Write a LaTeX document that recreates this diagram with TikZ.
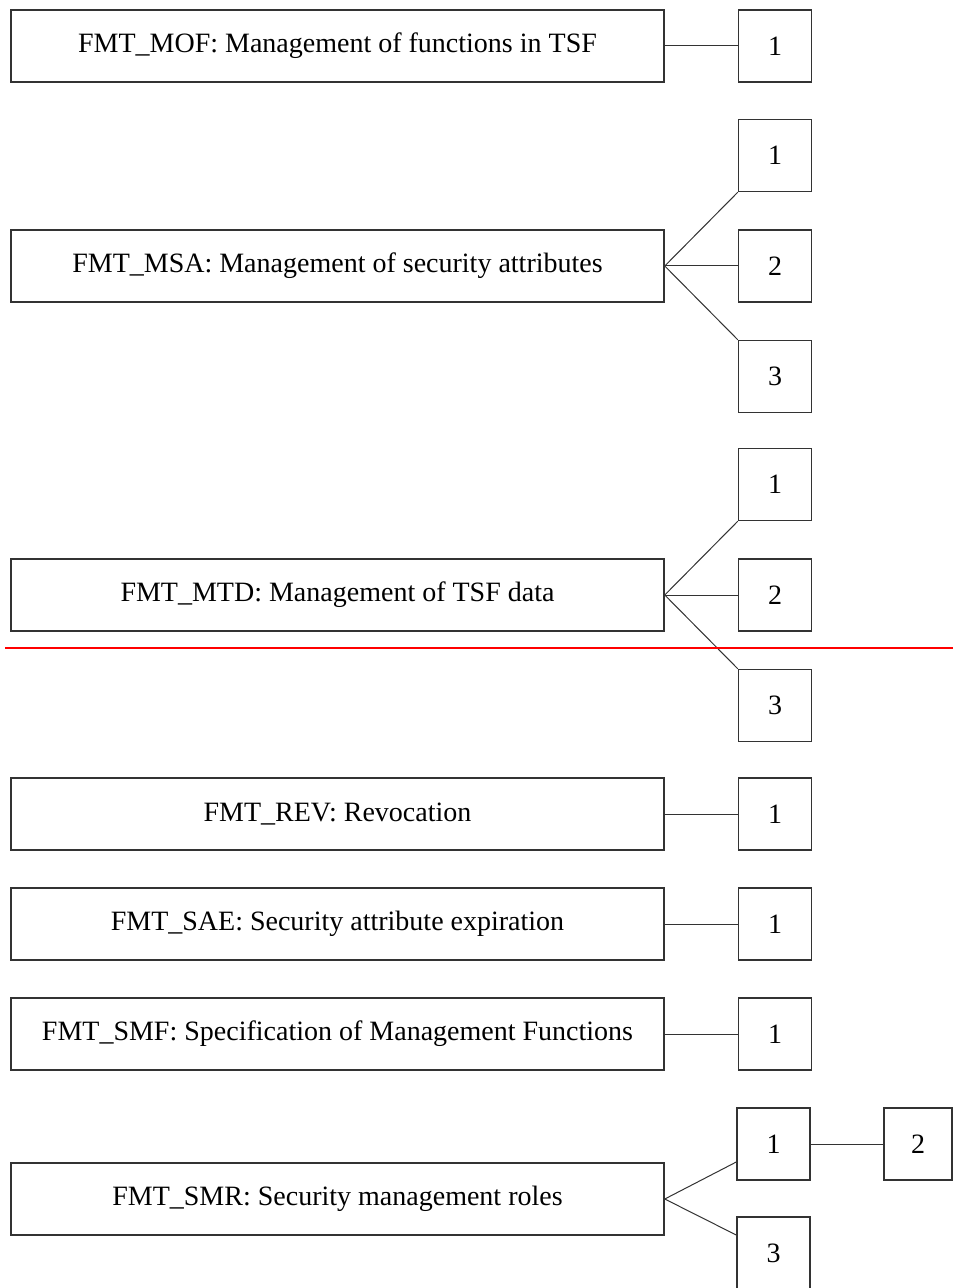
\documentclass[tikz,border=0pt]{standalone}
\usepackage{fontspec}
\setmainfont{Liberation Serif}
\usetikzlibrary{positioning}
\definecolor{BoxGray}{HTML}{333333}

\begin{document}
\begin{tikzpicture}[x=0.5pt, y=-0.5pt, node distance=18.5pt and 36.5pt,
        famil/.style={rectangle, draw=BoxGray, line width=0.75pt, fill=white, minimum width=326.5pt, minimum height=36pt, inner sep=0pt, font=\fontsize{14}{16}\selectfont},
        comp/.style={rectangle, draw=BoxGray, line width=0.75pt, fill=white, minimum width=36.5pt, minimum height=36pt, inner sep=0pt, font=\fontsize{14}{16}\selectfont},
        link/.style={draw=BoxGray, line width=0.5pt}]

        \useasboundingbox (0,0) rectangle (953,1288);

        \node[famil] (mof) at (337.5,46) {FMT\_MOF: Management of functions in TSF};
        \node[comp, right=of mof] (mof1) {1};

        \node[famil] (msa) at (337.5,266) {FMT\_MSA: Management of security attributes};
        \node[comp, right=of msa] (msa2) {2};
        \node[comp, above=of msa2] (msa1) {1};
        \node[comp, below=of msa2] (msa3) {3};

        \node[famil] (mtd) at (337.5,595) {FMT\_MTD: Management of TSF data};
        \node[comp, right=of mtd] (mtd2) {2};
        \node[comp, above=of mtd2] (mtd1) {1};
        \node[comp, below=of mtd2] (mtd3) {3};

        \node[famil] (rev) at (337.5,814) {FMT\_REV: Revocation};
        \node[comp, right=of rev] (rev1) {1};

        \node[famil] (sae) at (337.5,924) {FMT\_SAE: Security attribute expiration};
        \node[comp, right=of sae] (sae1) {1};

        \node[famil] (smf) at (337.5,1034) {FMT\_SMF: Specification of Management Functions};
        \node[comp, right=of smf] (smf1) {1};

        \node[famil] (smr) at (337.5,1199) {FMT\_SMR: Security management roles};
        \node[comp] (smr1) at (773.5,1144) {1};
        \node[comp, minimum width=34pt] (smr2) at (918,1144) {2};
        \node[comp] (smr3) at (773.5,1253) {3};

        \draw[link] (mof) -- (mof1);
        \draw[link] (msa.east) -- (msa1.south west);
        \draw[link] (msa) -- (msa2);
        \draw[link] (msa.east) -- (msa3.north west);
        \draw[link] (mtd.east) -- (mtd1.south west);
        \draw[link] (mtd) -- (mtd2);
        \draw[link] (mtd.east) -- (mtd3.north west);
        \draw[link] (rev) -- (rev1);
        \draw[link] (sae) -- (sae1);
        \draw[link] (smf) -- (smf1);
        \draw[link] (smr.east) -- ([yshift=-9pt]smr1.west);
        \draw[link] (smr.east) -- ([yshift=9pt]smr3.west);
        \draw[link] (smr1) -- (smr2);

        \draw[red, line width=0.75pt] (5,648) -- (953,648);
    \end{tikzpicture}
\end{document}
